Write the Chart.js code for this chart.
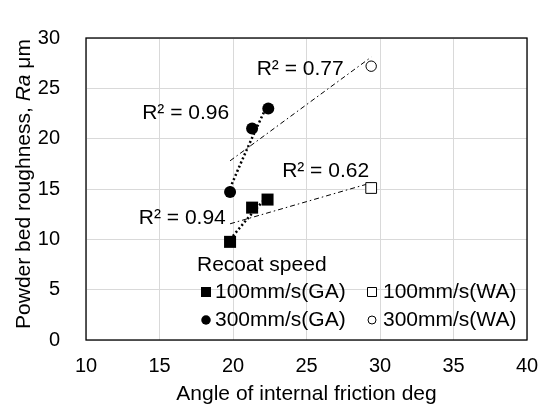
<!DOCTYPE html>
<html>
<head>
<meta charset="utf-8">
<script src="https://cdn.jsdelivr.net/npm/chart.js@4.4.1/dist/chart.umd.min.js"></script>
<style>
  html, body { margin: 0; padding: 0; background: #fff; }
  #wrap { width: 546px; height: 405px; }
</style>
</head>
<body>
<div id="wrap"><canvas id="roughChart" width="546" height="405"></canvas></div>
<script>
// angle of internal friction (deg) vs powder bed roughness Ra (um)
const gaAngle100 = [19.8, 21.3, 22.35];
const gaRa100 = [9.75, 13.15, 13.95];
const gaAngle300 = [19.8, 21.3, 22.4];
const gaRa300 = [14.7, 21.0, 23.0];
const waAngle = [29.4];
const waRa100 = [15.1];
const waRa300 = [27.2];
const seriesLabels = ['100mm/s(GA)', '100mm/s(WA)', '300mm/s(GA)', '300mm/s(WA)'];
const r2Text = ['R² = 0.94', 'R² = 0.62', 'R² = 0.96', 'R² = 0.77'];
const xTicks = [10, 15, 20, 25, 30, 35, 40];
const yTicks = [0, 5, 10, 15, 20, 25, 30];

const FONT = "'Liberation Sans', Arial, sans-serif";

const toPts = (xs, ys) => xs.map((x, i) => ({ x: x, y: ys[i] }));

// least squares, optionally on ln(x) (excel log trendline)
function fitLine(xs, ys, useLog, steps) {
    const tx = xs.map(v => useLog ? Math.log(v) : v);
    const n = xs.length;
    const mx = tx.reduce((a, b) => a + b, 0) / n;
    const my = ys.reduce((a, b) => a + b, 0) / n;
    let sxy = 0, sxx = 0;
    for (let i = 0; i < n; i++) {
        sxy += (tx[i] - mx) * (ys[i] - my);
        sxx += (tx[i] - mx) * (tx[i] - mx);
    }
    const b = sxy / sxx, a = my - b * mx;
    const lo = Math.min(...xs), hi = Math.max(...xs);
    const pts = [];
    for (let i = 0; i <= steps; i++) {
        const x = lo + (hi - lo) * i / steps;
        pts.push({ x: x, y: a + b * (useLog ? Math.log(x) : x) });
    }
    return pts;
}

const all100x = gaAngle100.concat(waAngle), all100y = gaRa100.concat(waRa100);
const all300x = gaAngle300.concat(waAngle), all300y = gaRa300.concat(waRa300);

const marker = (label, data, style, r, fill) => ({
    label: label, data: data, pointStyle: style, pointRadius: r, pointHoverRadius: r,
    backgroundColor: fill, borderColor: '#000', borderWidth: fill === '#fff' ? 1 : 0,
    showLine: false
});
const trend = (data, dash, w) => ({
    label: '', trend: true, data: data, showLine: true, pointRadius: 0,
    borderColor: '#000', borderWidth: w, borderDash: dash, fill: false, tension: 0
});

const extras = {
    id: 'extras',
    beforeDatasetsDraw(chart) {
        const { ctx, chartArea: a } = chart;
        ctx.save();
        ctx.strokeStyle = '#000';
        ctx.lineWidth = 1.3;
        ctx.strokeRect(a.left, a.top, a.right - a.left, a.bottom - a.top);
        ctx.restore();
    },
    afterDraw(chart, args, opts) {
        const { ctx, scales } = chart;
        ctx.save();
        ctx.fillStyle = '#000';
        ctx.textBaseline = 'middle';

        // y title with italic Ra
        const parts = [['Powder bed roughness, ', ''], ['Ra', 'italic '], [' μm', '']];
        let total = 0;
        parts.forEach(p => { ctx.font = p[1] + '21px ' + FONT; total += ctx.measureText(p[0]).width; });
        ctx.translate(24, 184);
        ctx.rotate(-Math.PI / 2);
        ctx.textAlign = 'left';
        let px = -total / 2;
        parts.forEach(p => {
            ctx.font = p[1] + '21px ' + FONT;
            ctx.fillText(p[0], px, 0);
            px += ctx.measureText(p[0]).width;
        });
        ctx.setTransform(1, 0, 0, 1, 0, 0);

        // R² labels
        ctx.font = '21px ' + FONT;
        ctx.textAlign = 'center';
        opts.r2.forEach((p, i) => {
            ctx.fillText(r2Text[i], scales.x.getPixelForValue(p[0]), scales.y.getPixelForValue(p[1]));
        });

        // legend
        const lg = opts.legend;
        ctx.textAlign = 'left';
        ctx.fillText('Recoat speed', lg.titleX, lg.titleY);
        for (let i = 0; i < 4; i++) {
            const ds = chart.data.datasets[i];
            const col = i % 2, row = Math.floor(i / 2);
            const mx = lg.markX[col], my = lg.rowY[row];
            const s = lg.size[i];
            ctx.beginPath();
            if (ds.pointStyle === 'rect') ctx.rect(mx - s / 2, my - s / 2, s, s);
            else ctx.arc(mx, my, s / 2, 0, Math.PI * 2);
            ctx.fillStyle = ds.backgroundColor;
            ctx.fill();
            if (ds.borderWidth) { ctx.lineWidth = 1; ctx.strokeStyle = '#000'; ctx.stroke(); }
            ctx.fillStyle = '#000';
            ctx.fillText(ds.label, lg.textX[col], my);
        }
        ctx.restore();
    }
};

const tickFont = { family: FONT, size: 20 };

new Chart(document.getElementById('roughChart'), {
    type: 'scatter',
    data: {
        datasets: [
            marker(seriesLabels[0], toPts(gaAngle100, gaRa100), 'rect', 8.5, '#000'),
            marker(seriesLabels[1], toPts(waAngle, waRa100), 'rect', 7.6, '#fff'),
            marker(seriesLabels[2], toPts(gaAngle300, gaRa300), 'circle', 6, '#000'),
            marker(seriesLabels[3], toPts(waAngle, waRa300), 'circle', 5.2, '#fff'),
            trend(fitLine(gaAngle100, gaRa100, true, 20), [2, 2.5], 2.5),
            trend(fitLine(gaAngle300, gaRa300, true, 20), [2, 2.5], 2.5),
            trend(fitLine(all100x, all100y, false, 1), [5, 3, 1.5, 3], 1),
            trend(fitLine(all300x, all300y, false, 1), [5, 3, 1.5, 3], 1)
        ]
    },
    options: {
        responsive: false,
        animation: false,
        events: [],
        layout: { padding: { top: 19, right: 19, left: 0, bottom: 0 } },
        plugins: {
            legend: { display: false },
            tooltip: { enabled: false },
            extras: {
                r2: [[16.55, 12.06], [26.3, 16.8], [16.78, 22.5], [24.57, 26.9]],
                legend: {
                    titleX: 197, titleY: 265,
                    markX: [206, 372], textX: [215, 383], rowY: [292, 320],
                    size: [10, 9, 9.5, 8]
                }
            }
        },
        scales: {
            x: {
                type: 'linear', min: 10, max: 40,
                afterBuildTicks: s => { s.ticks = xTicks.map(v => ({ value: v })); },
                afterFit: s => { s.height = 65; s.paddingRight = 0; },
                ticks: { color: '#000', font: tickFont, padding: 14, maxRotation: 0 },
                grid: { color: '#d9d9d9', drawTicks: false },
                border: { display: false },
                title: {
                    display: true, text: 'Angle of internal friction deg', color: '#000',
                    font: { family: FONT, size: 21 }, padding: { top: 0, bottom: -2 }
                }
            },
            y: {
                type: 'linear', min: 0, max: 30,
                afterBuildTicks: s => { s.ticks = yTicks.map(v => ({ value: v })); },
                afterFit: s => { s.width = 86; },
                ticks: { color: '#000', font: tickFont, padding: 26 },
                grid: { color: '#d9d9d9', drawTicks: false },
                border: { display: false }
            }
        }
    },
    plugins: [extras]
});
</script>
</body>
</html>
